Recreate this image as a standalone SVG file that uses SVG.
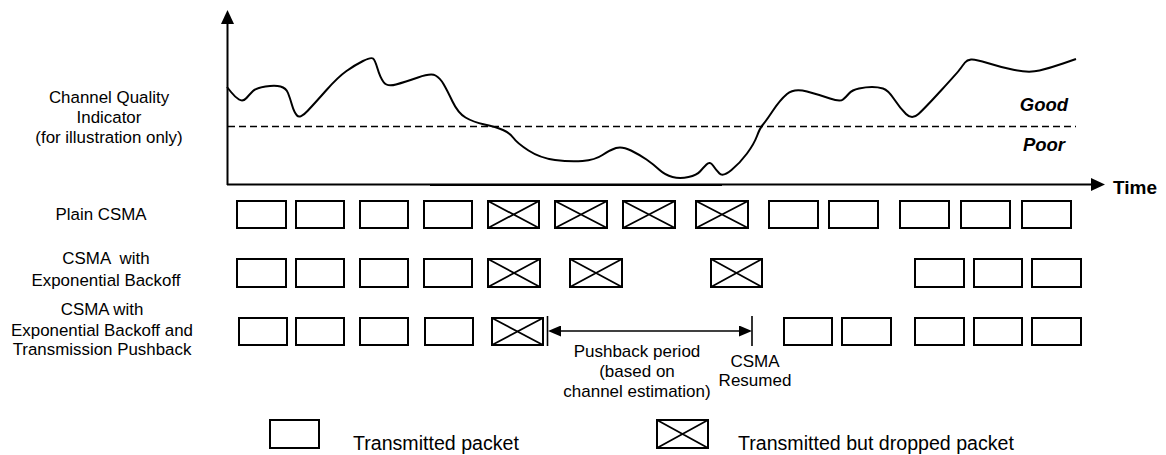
<svg xmlns="http://www.w3.org/2000/svg" width="1166" height="455" viewBox="0 0 1166 455">
<style>
text{font-family:"Liberation Sans",Arial,sans-serif;fill:#000}
.lbl{font-size:16.9px;text-anchor:middle}
.pb{font-size:17px;text-anchor:middle}
.leg{font-size:19.6px}
.gp{font-size:18.5px;font-weight:bold;font-style:italic;text-anchor:middle}
.pk{fill:#fff;stroke:#000;stroke-width:2}
.x{stroke:#000;stroke-width:1.8;fill:none}
.ln{stroke:#000;fill:none}
</style>
<defs>
<marker id="axh" viewBox="0 0 14 13" refX="6" refY="6.5" markerWidth="14" markerHeight="13" markerUnits="userSpaceOnUse" orient="auto-start-reverse"><path d="M0,0 L14,6.5 L0,13 z" fill="#000"/></marker>
<marker id="pbh" viewBox="0 0 13 11" refX="5" refY="5.5" markerWidth="13" markerHeight="11" markerUnits="userSpaceOnUse" orient="auto-start-reverse"><path d="M0,0 L13,5.5 L0,11 z" fill="#000"/></marker>
<g id="pkt"><rect class="pk" x="0" y="0" width="49" height="27"/></g>
</defs>

<g id="axes">
<line class="ln" x1="227.5" y1="185" x2="227.5" y2="18" stroke-width="2" marker-end="url(#axh)"/>
<line class="ln" x1="227" y1="184.5" x2="1097" y2="184.5" stroke-width="2" marker-end="url(#axh)"/>
<line class="ln" x1="430" y1="185" x2="722" y2="185" stroke-width="2"/>
<line class="ln" x1="228" y1="126.5" x2="1076" y2="126.5" stroke-width="1.6" stroke-dasharray="7 4"/>
<text x="1113" y="194" style="font-size:19px;font-weight:bold">Time</text>
<text class="gp" x="1044" y="111">Good</text>
<text class="gp" x="1044" y="151">Poor</text>
</g>

<g id="curve">
<path class="ln" stroke-width="2" stroke-linejoin="round" d="M227,87 L231,92 Q235,97 239,99.5 Q243,102 246.5,98 Q250,94 253,91 Q256,88 265.5,86.5 Q275,85 280.5,86.5 Q286,88 288,93 Q290,98 292,105 Q294,112 297,115.5 Q300,119 307.5,111 Q315,103 326.5,90 Q338,77 346.5,71 Q355,65 363,61 Q371,57 373,58.5 Q375,60 377.5,68.5 Q380,77 383.5,82 Q387,87 396,84.5 Q405,82 418,77.5 Q431,73 435.5,75.5 Q440,78 443.5,84 Q447,90 452.5,101.5 Q458,113 465.5,117.5 Q473,122 484.5,124.5 Q496,127 503,130 Q510,133 513.5,138 Q517,143 528.5,150.5 Q540,158 555,160 Q570,162 582.5,161 Q595,160 602.5,155 Q610,150 616,148 Q622,146 631,150.5 Q640,155 646.5,159.5 Q653,164 659,169.5 Q665,175 672.5,177 Q680,179 688.5,177 Q697,175 700,171.5 Q703,168 706.5,164.5 Q710,161 713,165.5 Q716,170 719.5,173.5 Q723,177 731.5,170 Q740,163 747,153.5 Q754,144 757,136 Q760,128 763,124.5 Q766,121 773,110.5 Q780,100 787,94 Q794,88 807,91.5 Q820,95 830,98.5 Q840,102 843,99.5 Q846,97 849,93.5 Q852,90 859,88.5 Q866,87 872,87 Q878,87 883,88.5 Q888,90 894,99 Q900,108 906,114 Q912,120 918.5,114 Q925,108 941.5,90 Q958,72 960.5,68.5 Q963,65 965,62.5 Q967,60 971,59.5 Q975,59 987.5,63 Q1000,67 1014.5,70 Q1029,73 1039.5,70.5 Q1050,68 1063,63.5 L1076,59"/>
</g>

<g id="labels">
<text class="lbl" x="109" y="103">Channel Quality</text>
<text class="lbl" x="109" y="123">Indicator</text>
<text class="lbl" x="109" y="143">(for illustration only)</text>
<text class="lbl" x="101" y="220">Plain CSMA</text>
<text class="lbl" x="106" y="264" xml:space="preserve">CSMA  with</text>
<text class="lbl" x="106" y="286">Exponential Backoff</text>
<text class="lbl" x="102" y="315">CSMA with</text>
<text class="lbl" x="102" y="336">Exponential Backoff and</text>
<text class="lbl" x="102" y="355">Transmission Pushback</text>
</g>

<g id="row-plain">
<rect class="pk" x="237" y="201" width="49" height="27"/>
<rect class="pk" x="296" y="201" width="48" height="27"/>
<rect class="pk" x="360" y="201" width="48" height="27"/>
<rect class="pk" x="424" y="201" width="48" height="27"/>
<g class="x"><rect class="pk" x="488" y="201" width="51" height="27"/><path d="M488,201 L539,228 M488,228 L539,201"/></g>
<g class="x"><rect class="pk" x="555" y="201" width="52" height="27"/><path d="M555,201 L607,228 M555,228 L607,201"/></g>
<g class="x"><rect class="pk" x="623" y="201" width="52" height="27"/><path d="M623,201 L675,228 M623,228 L675,201"/></g>
<g class="x"><rect class="pk" x="696" y="201" width="52" height="27"/><path d="M696,201 L748,228 M696,228 L748,201"/></g>
<rect class="pk" x="769" y="201" width="49" height="27"/>
<rect class="pk" x="829" y="201" width="49" height="27"/>
<rect class="pk" x="900" y="201" width="49" height="27"/>
<rect class="pk" x="961" y="201" width="49" height="27"/>
<rect class="pk" x="1022" y="201" width="49" height="27"/>
</g>

<g id="row-backoff">
<rect class="pk" x="237" y="259" width="49" height="28"/>
<rect class="pk" x="296" y="259" width="48" height="28"/>
<rect class="pk" x="360" y="259" width="48" height="28"/>
<rect class="pk" x="424" y="259" width="48" height="28"/>
<g class="x"><rect class="pk" x="488" y="259" width="52" height="28"/><path d="M488,259 L540,287 M488,287 L540,259"/></g>
<g class="x"><rect class="pk" x="570" y="259" width="52" height="28"/><path d="M570,259 L622,287 M570,287 L622,259"/></g>
<g class="x"><rect class="pk" x="711" y="259" width="51" height="28"/><path d="M711,259 L762,287 M711,287 L762,259"/></g>
<rect class="pk" x="915" y="259" width="49" height="28"/>
<rect class="pk" x="974" y="259" width="48" height="28"/>
<rect class="pk" x="1032" y="259" width="49" height="28"/>
</g>

<g id="row-pushback">
<rect class="pk" x="239" y="318" width="48" height="27"/>
<rect class="pk" x="296" y="318" width="48" height="27"/>
<rect class="pk" x="360" y="318" width="48" height="27"/>
<rect class="pk" x="425" y="318" width="48" height="27"/>
<g class="x"><rect class="pk" x="492" y="318" width="51" height="27"/><path d="M492,318 L543,345 M492,345 L543,318"/></g>
<rect class="pk" x="784" y="318" width="48" height="27"/>
<rect class="pk" x="842" y="318" width="49" height="27"/>
<rect class="pk" x="915" y="318" width="49" height="27"/>
<rect class="pk" x="974" y="318" width="48" height="27"/>
<rect class="pk" x="1032" y="318" width="49" height="27"/>
</g>

<g id="connectors">
<line class="ln" x1="547.5" y1="316" x2="547.5" y2="346" stroke-width="1.6"/>
<line class="ln" x1="752" y1="316" x2="752" y2="346" stroke-width="1.6"/>
<line class="ln" x1="556" y1="331" x2="744" y2="331" stroke-width="1.6" marker-start="url(#pbh)" marker-end="url(#pbh)"/>
</g>

<g id="pushback-text">
<text class="pb" x="637" y="357">Pushback period</text>
<text class="pb" x="637" y="377">(based on</text>
<text class="pb" x="637" y="397">channel estimation)</text>
<text class="pb" x="755" y="367">CSMA</text>
<text class="pb" x="755" y="386">Resumed</text>
</g>

<g id="legend">
<rect class="pk" x="270" y="420" width="49" height="28" stroke-width="1.6"/>
<text class="leg" x="353" y="450">Transmitted packet</text>
<g class="x"><rect class="pk" x="657" y="420" width="51" height="28" stroke-width="1.6"/><path d="M657,420 L708,448 M657,448 L708,420"/></g>
<text class="leg" x="738" y="450">Transmitted but dropped packet</text>
</g>
</svg>
